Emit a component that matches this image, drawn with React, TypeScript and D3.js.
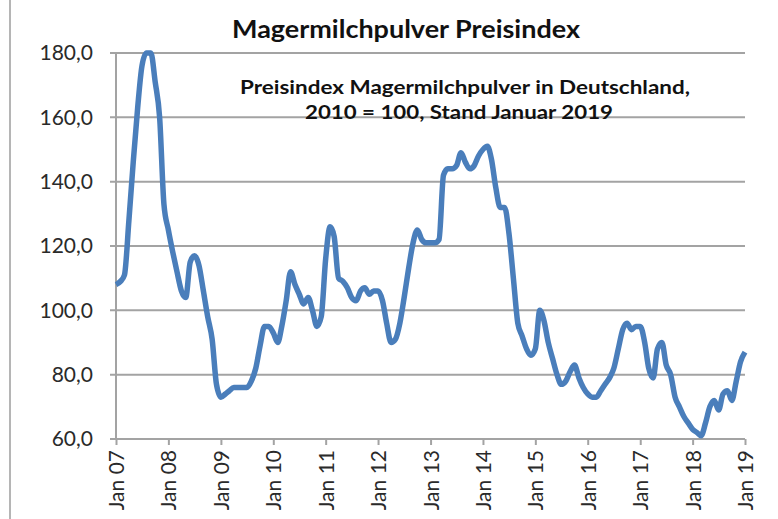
import React, { useEffect, useRef } from 'react';
import * as d3 from 'd3';

// Monatswerte, Preisindex Magermilchpulver (2010 = 100), ab Jan 2007
const firstMonth = new Date(2007, 0, 1);
const values2007 = [108, 109, 111, 128, 146, 163, 176, 180, 180, 171, 160, 133];
const values2008 = [125, 118, 112, 106, 104, 115, 117, 114, 106, 98, 91, 77];
const values2009 = [73, 74, 75, 76, 76, 76, 76, 78, 82, 89, 95, 95];
const values2010 = [93, 90, 95, 103, 112, 108, 105, 102, 104, 100, 95, 98];
const values2011 = [116, 126, 123, 110, 109, 107, 104, 103, 106, 107, 105, 106];
const values2012 = [106, 103, 96, 90, 91, 96, 104, 113, 121, 125, 122, 121];
const values2013 = [121, 121, 122, 142, 144, 144, 145, 149, 146, 144, 145, 148];
const values2014 = [150, 151, 147, 138, 132, 132, 124, 110, 96, 92, 88, 86];
const values2015 = [88, 100, 97, 90, 85, 80, 77, 78, 81, 83, 79, 76];
const values2016 = [74, 73, 73, 75, 77, 79, 82, 88, 94, 96, 94, 95];
const values2017 = [95, 90, 82, 79, 88, 90, 83, 80, 73, 70, 67, 65];
const values2018 = [63, 62, 61, 65, 70, 72, 69, 74, 75, 72, 78, 84];
const values2019 = [87];

const yTicks = [60, 80, 100, 120, 140, 160, 180];
const title = 'Magermilchpulver Preisindex';
const subtitle = ['Preisindex Magermilchpulver in Deutschland,', '2010 = 100, Stand Januar 2019'];

const allValues = [
  ...values2007, ...values2008, ...values2009, ...values2010, ...values2011,
  ...values2012, ...values2013, ...values2014, ...values2015, ...values2016,
  ...values2017, ...values2018, ...values2019,
];

const font = 'Lato, "Open Sans", sans-serif';

const Chart = () => {
  const ref = useRef<SVGSVGElement>(null);

  useEffect(() => {
    const width = 778;
    const height = 519;
    const left = 116, right = 745, top = 53, bottom = 439;

    const svg = d3.select(ref.current).attr('width', width).attr('height', height);
    svg.selectAll('*').remove();

    const data = allValues.map((v, i) => ({ date: d3.timeMonth.offset(firstMonth, i), value: v }));

    const x = d3.scaleTime()
      .domain([firstMonth, d3.timeMonth.offset(firstMonth, allValues.length - 1)])
      .range([left, right]);
    const y = d3.scaleLinear().domain([60, 180]).range([bottom, top]);

    svg.append('rect').attr('width', width).attr('height', height).attr('fill', '#fff');
    // Rahmen links
    svg.append('line')
      .attr('x1', 10).attr('x2', 10).attr('y1', 0).attr('y2', height)
      .attr('stroke', '#b5b5b5').attr('stroke-width', 2);

    // Gitterlinien
    svg.append('g')
      .selectAll('line')
      .data(yTicks)
      .enter()
      .append('line')
      .attr('x1', left - 6)
      .attr('x2', right)
      .attr('y1', (d) => y(d))
      .attr('y2', (d) => y(d))
      .attr('stroke', '#a3a3a3')
      .attr('stroke-width', 2);

    const de = d3.formatLocale({ decimal: ',', thousands: '.', grouping: [3], currency: ['', ' €'] });

    const yAxis = svg.append('g')
      .attr('transform', `translate(${left},0)`)
      .call(d3.axisLeft(y).tickValues(yTicks).tickSize(0).tickPadding(23).tickFormat(de.format('.1f')));
    yAxis.select('.domain').remove();
    yAxis.selectAll('text')
      .attr('font-family', font).attr('font-size', 21).attr('fill', '#2a2a2a');

    svg.append('line')
      .attr('x1', left).attr('x2', left).attr('y1', top).attr('y2', bottom)
      .attr('stroke', '#a3a3a3').attr('stroke-width', 2);

    const xAxis = svg.append('g')
      .attr('transform', `translate(0,${bottom})`)
      .call(
        d3.axisBottom(x)
          .ticks(d3.timeYear.every(1))
          .tickSize(6)
          .tickFormat(d3.timeFormat('Jan %y') as any)
      );
    xAxis.select('.domain').remove();
    xAxis.selectAll('line').attr('stroke', '#a3a3a3').attr('stroke-width', 2);
    xAxis.selectAll('text')
      .attr('font-family', font)
      .attr('font-size', 21)
      .attr('fill', '#2a2a2a')
      .attr('x', -11)
      .attr('y', 0)
      .attr('dy', '0.36em')
      .attr('transform', 'rotate(-90)')
      .style('text-anchor', 'end');

    const line = d3.line<{ date: Date; value: number }>()
      .x((d) => x(d.date))
      .y((d) => y(d.value))
      .curve(d3.curveMonotoneX);

    svg.append('path')
      .datum(data)
      .attr('fill', 'none')
      .attr('stroke', '#4a7ebb')
      .attr('stroke-width', 5.5)
      .attr('stroke-linejoin', 'round')
      .attr('d', line);

    svg.append('text')
      .attr('x', 406).attr('y', 38)
      .attr('text-anchor', 'middle')
      .attr('font-family', font).attr('font-weight', 'bold').attr('font-size', 24)
      .attr('fill', '#111')
      .attr('textLength', 348).attr('lengthAdjust', 'spacingAndGlyphs')
      .text(title);

    svg.append('text')
      .attr('x', 465).attr('y', 94)
      .attr('text-anchor', 'middle')
      .attr('font-family', font).attr('font-weight', 'bold').attr('font-size', 18)
      .attr('fill', '#111')
      .attr('textLength', 450).attr('lengthAdjust', 'spacingAndGlyphs')
      .text(subtitle[0]);
    svg.append('text')
      .attr('x', 459).attr('y', 119)
      .attr('text-anchor', 'middle')
      .attr('font-family', font).attr('font-weight', 'bold').attr('font-size', 18)
      .attr('fill', '#111')
      .attr('textLength', 308).attr('lengthAdjust', 'spacingAndGlyphs')
      .text(subtitle[1]);
  }, []);

  return <svg ref={ref} style={{ position: 'absolute', left: 0, top: 0 }} />;
};

export default function App() {
  return <Chart />;
}
